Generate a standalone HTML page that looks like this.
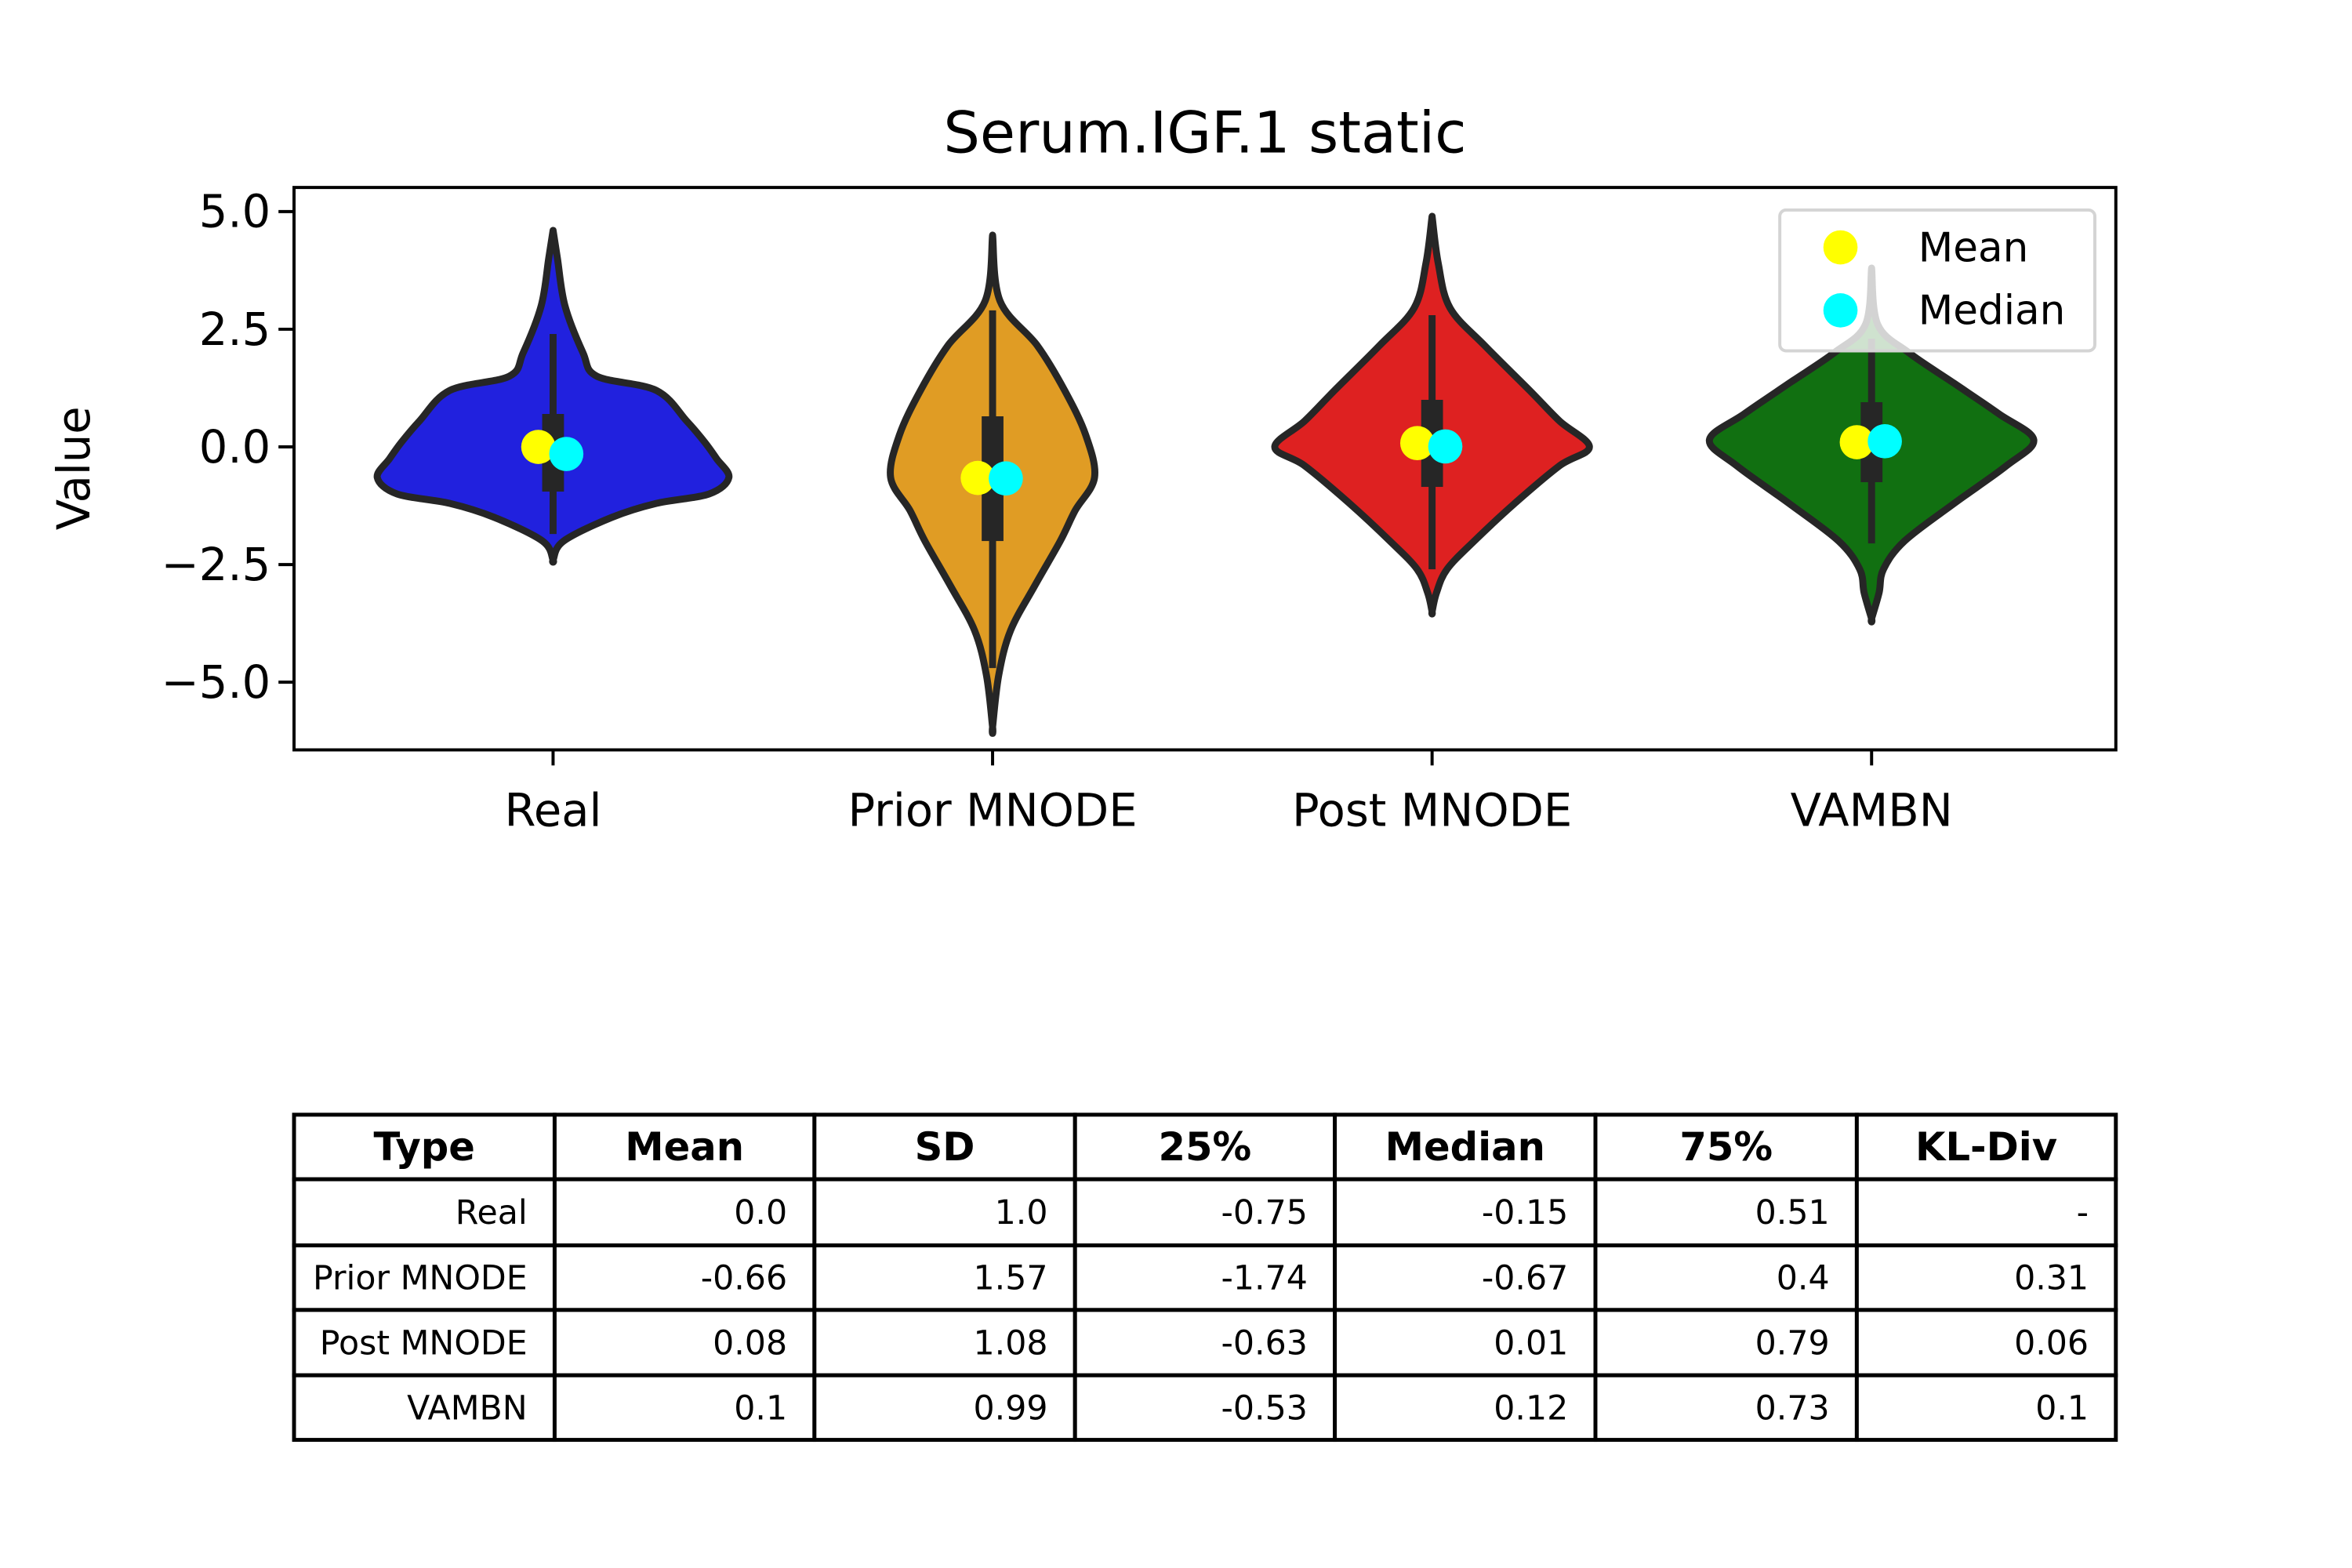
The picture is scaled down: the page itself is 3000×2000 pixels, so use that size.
<!DOCTYPE html>
<html><head><meta charset="utf-8"><style>
html,body{margin:0;padding:0;background:#fff;}
svg{display:block;font-family:"DejaVu Sans","Liberation Sans",sans-serif;}
</style></head><body>
<svg id="chart" width="3000" height="2000" viewBox="0 0 3000 2000" xmlns="http://www.w3.org/2000/svg">
<rect width="3000" height="2000" fill="#fff"/>
<g transform="scale(0.9922)">
<text x="1549" y="196" font-size="74" text-anchor="middle">Serum.IGF.1 static</text>
<g id="plot"></g>
<g id="table"></g>
</g>
</svg>
<script>
const categories = ["Real","Prior MNODE","Post MNODE","VAMBN"];
const fills = ["#2121de","#e09c24","#de2121","#117011"];
const means = [0.0,-0.66,0.08,0.1];
const medians = [-0.15,-0.67,0.01,0.12];
const boxLo = [-0.95,-2.0,-0.85,-0.75];
const boxHi = [0.7,0.65,1.0,0.95];
const whiskLo = [-1.85,-4.7,-2.6,-2.05];
const whiskHi = [2.4,2.9,2.8,2.3];
const yTicks = [5.0,2.5,0.0,-2.5,-5.0];
const yTickLabels = ["5.0","2.5","0.0","\u22122.5","\u22125.0"];
// violin profiles: [value, half-width in category units]
const profReal = [[4.6,0],[4.0,0.01],[3.0,0.027],[2.0,0.068],[1.5,0.1],[1.2,0.235],[0.55,0.304],[0.1,0.345],[-0.25,0.372],[-0.65,0.40],[-1.0,0.355],[-1.2,0.235],[-1.5,0.133],[-2.0,0.024],[-2.4,0]];
const profPrior = [[4.5,0],[3.1,0.017],[2.15,0.102],[1.2,0.164],[0.25,0.212],[-0.65,0.232],[-1.35,0.188],[-2.0,0.154],[-2.95,0.096],[-3.9,0.041],[-4.85,0.014],[-5.95,0]];
const profPost = [[4.9,0],[3.9,0.014],[2.95,0.041],[2.15,0.12],[1.2,0.222],[0.55,0.29],[0.0,0.358],[-0.4,0.29],[-1.2,0.188],[-2.0,0.096],[-2.6,0.034],[-3.1,0.01],[-3.5,0]];
const profVambn = [[3.8,0],[2.6,0.014],[2.0,0.085],[1.35,0.188],[0.7,0.29],[0.15,0.369],[-0.4,0.307],[-1.2,0.188],[-2.0,0.075],[-2.6,0.027],[-3.1,0.017],[-3.65,0]];
const profiles = [profReal,profPrior,profPost,profVambn];
const tableHeader = ["Type","Mean","SD","25%","Median","75%","KL-Div"];
const tableRows = [
 ["Real","0.0","1.0","-0.75","-0.15","0.51","-"],
 ["Prior MNODE","-0.66","1.57","-1.74","-0.67","0.4","0.31"],
 ["Post MNODE","0.08","1.08","-0.63","0.01","0.79","0.06"],
 ["VAMBN","0.1","0.99","-0.53","0.12","0.73","0.1"]];

const NS="http://www.w3.org/2000/svg";
const AX={l:378,r:2720,t:241,b:964};
const yScale=v=>574.5-v*60.5;
const xScale=i=>711+i*565;
const wScale=w=>w*565;
function mk(tag,attrs,parent){const e=document.createElementNS(NS,tag);for(const k in attrs)e.setAttribute(k,attrs[k]);parent.appendChild(e);return e;}
const plot=document.getElementById('plot');

profiles.forEach((p,i)=>{
  const cx=xScale(i);
  let pts=p.map(([v,w])=>[cx+wScale(w),yScale(v)]);
  let left=p.slice().reverse().map(([v,w])=>[cx-wScale(w),yScale(v)]);
  const all=pts.concat(left);
  let d="M"+all[0][0]+","+all[0][1];
  for(let k=0;k<all.length-1;k++){
    const p0=all[Math.max(k-1,0)],p1=all[k],p2=all[k+1],p3=all[Math.min(k+2,all.length-1)];
    const c1=[p1[0]+(p2[0]-p0[0])/6,p1[1]+(p2[1]-p0[1])/6];
    const c2=[p2[0]-(p3[0]-p1[0])/6,p2[1]-(p3[1]-p1[1])/6];
    d+=` C${c1[0]},${c1[1]} ${c2[0]},${c2[1]} ${p2[0]},${p2[1]}`;
  }
  d+="Z";
  const v=mk('path',{d:d,fill:fills[i],stroke:"#262626","stroke-width":9,"stroke-linejoin":"round"},plot);
  
  
  const wl=mk('line',{x1:cx,x2:cx,y1:yScale(whiskHi[i]),y2:yScale(whiskLo[i]),stroke:"#262626","stroke-width":9},plot);
  
  
  const bx=mk('rect',{x:cx-14,width:28,y:yScale(boxHi[i]),height:yScale(boxLo[i])-yScale(boxHi[i]),fill:"#262626"},plot);
  
  
  const mn=mk('circle',{cx:cx-19,cy:yScale(means[i]),r:22,fill:"#ffff00"},plot);
  
  
  const md=mk('circle',{cx:cx+17,cy:yScale(medians[i]),r:22,fill:"#00ffff"},plot);
  
  
  mk('line',{x1:cx,x2:cx,y1:AX.b,y2:AX.b+20,stroke:"#000","stroke-width":4},plot);
  const xl=mk('text',{x:cx,y:1062,"font-size":58,"text-anchor":"middle"},plot);
  xl.textContent=categories[i];
  
  
});
const fr=mk('rect',{x:AX.l,y:AX.t,width:AX.r-AX.l,height:AX.b-AX.t,fill:"none",stroke:"#000","stroke-width":4},plot);


yTicks.forEach((t,k)=>{
  const y=yScale(t);
  mk('line',{x1:AX.l-20,x2:AX.l,y1:y,y2:y,stroke:"#000","stroke-width":4},plot);
  const tl=mk('text',{x:AX.l-30,y:y+20,"font-size":58,"text-anchor":"end"},plot);
  tl.textContent=yTickLabels[k];
  
  
});
const yl=mk('text',{x:0,y:0,"font-size":58,"text-anchor":"middle",transform:"translate(115,602) rotate(-90)"},plot);
yl.textContent="Value";


const lg=mk('g',{},plot);


mk('rect',{x:2288,y:270,width:405,height:181,rx:8,fill:"#fff","fill-opacity":0.8,stroke:"#d4d4d4","stroke-width":4},lg);
mk('circle',{cx:2366,cy:318,r:22,fill:"#ffff00"},lg);
mk('circle',{cx:2366,cy:399,r:22,fill:"#00ffff"},lg);
const t1=mk('text',{x:2466,y:336,"font-size":52},lg);t1.textContent="Mean";
const t2=mk('text',{x:2466,y:417,"font-size":52},lg);t2.textContent="Median";

const tb=document.getElementById('table');


const colX=[378,713,1047,1382,1716,2051,2387,2720];
const rowY=[1433,1516,1601,1684,1768,1851];
const allRows=[tableHeader].concat(tableRows);
allRows.forEach((row,r)=>{
  row.forEach((txt,c)=>{
    mk('rect',{x:colX[c],y:rowY[r],width:colX[c+1]-colX[c],height:rowY[r+1]-rowY[r],fill:"#fff",stroke:"#000","stroke-width":5},tb);
    const ty=(rowY[r]+rowY[r+1])/2;
    let t;
    if(r===0){t=mk('text',{x:(colX[c]+colX[c+1])/2,y:ty+17,"font-size":50,"font-weight":"bold","text-anchor":"middle"},tb);}
    else{t=mk('text',{x:colX[c+1]-35,y:ty+15,"font-size":43,"text-anchor":"end"},tb);}
    t.textContent=txt;
    
    
  });
});
</script>
</body></html>
